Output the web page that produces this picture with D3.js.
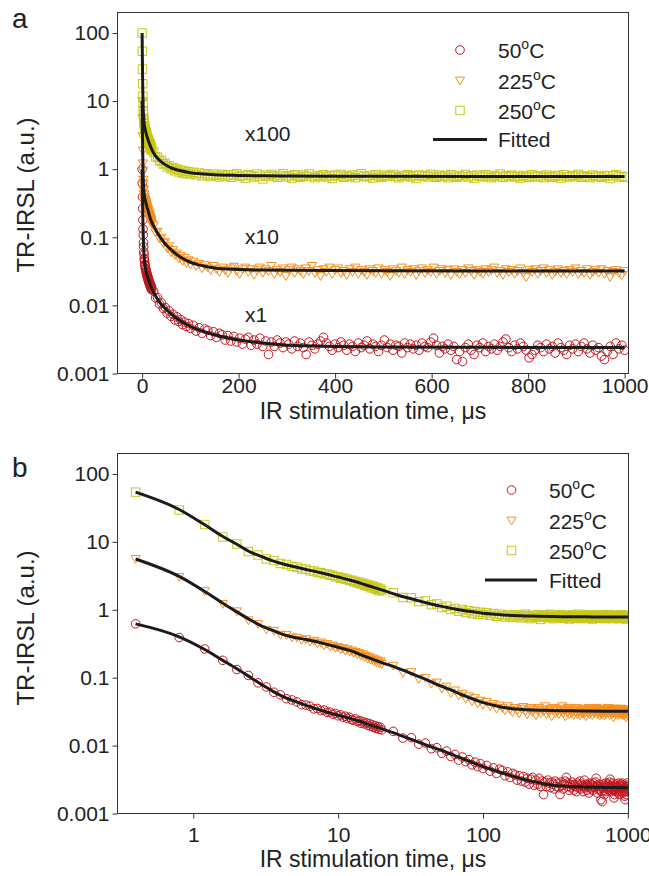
<!DOCTYPE html>
<html><head><meta charset="utf-8">
<script src="https://cdn.jsdelivr.net/npm/d3@7"></script>
<style>
body{margin:0;background:#fff}
svg{display:block}
text{font-family:"Liberation Sans",Arial,Helvetica,sans-serif;fill:#222}
</style></head>
<body><svg id="c" width="649" height="876"></svg>
<script>
// ---------------- DATA ----------------
const times = [0,0.4,0.8,1.2,1.6,2,2.4,2.8,3.2,3.6,
4,4.4,4.8,5.2,5.6,6,6.4,6.8,7.2,7.6,
8,8.4,8.8,9.2,9.6,10,10.4,10.8,11.2,11.6,
12,12.4,12.8,13.2,13.6,14,14.4,14.8,15.2,15.6,
16,16.4,16.8,17.2,17.6,18,18.4,18.8,19.2,19.6,
20,
24,28,32,36,40,44,48,52,56,60,
64,68,72,76,80,84,88,92,96,100,
106,112,118,124,130,136,142,148,154,160,
166,172,178,184,190,196,202,208,214,220,
226,232,238,244,250,256,262,268,274,280,
286,292,298,304,310,316,322,328,334,340,
346,352,358,364,370,376,382,388,394,400,
406,412,418,424,430,436,442,448,454,460,
466,472,478,484,490,496,502,508,514,520,
526,532,538,544,550,556,562,568,574,580,
586,592,598,604,610,616,622,628,634,640,
646,652,658,664,670,676,682,688,694,700,
706,712,718,724,730,736,742,748,754,760,
766,772,778,784,790,796,802,808,814,820,
826,832,838,844,850,856,862,868,874,880,
886,892,898,904,910,916,922,928,934,940,
946,952,958,964,970,976,982,988,994,1000];

const series50C = [1.0,0.62,0.39,0.265,0.18,0.132,0.108,0.084,0.073,0.061,
0.056,0.049,0.047,0.044,0.040,0.0395,0.038,0.0348,0.0352,0.0328,
0.0334,0.0309,0.0312,0.0290,0.0298,0.0275,0.0284,0.0262,0.0271,0.0250,
0.0262,0.0241,0.0236,0.0247,0.0226,0.0234,0.0213,0.0226,0.0209,0.0218,
0.0199,0.0211,0.0192,0.0203,0.0185,0.0196,0.0179,0.0191,0.0173,0.0186,
0.0170,
0.0162,0.0129,0.0131,0.0105,0.0109,0.0090,0.0093,0.0077,0.0083,0.0069,
0.0074,0.0061,0.0068,0.0058,0.0062,0.0052,0.0057,0.0049,0.0054,0.0046,
0.0051,0.0042,0.0047,0.0039,0.0045,0.0043,0.0036,0.0041,0.0034,0.0039,
0.0037,0.0031,0.0036,0.0030,0.0035,0.0029,0.0033,0.0027,0.0032,0.0034,
0.0026,0.0031,0.0027,0.0033,0.0025,0.0030,0.0019,0.0029,0.0025,0.0031,
0.0028,0.0024,0.0029,0.0027,0.0023,0.0030,0.0025,0.0028,0.0024,0.0019,
0.0029,0.0026,0.0023,0.0027,0.0030,0.0034,0.0028,0.0025,0.0022,0.0027,
0.0024,0.0029,0.0026,0.0022,0.0027,0.0025,0.0021,0.0028,0.0024,0.0026,
0.0030,0.0023,0.0027,0.0025,0.0021,0.0026,0.0031,0.0024,0.0027,0.0022,
0.0026,0.0025,0.0020,0.0028,0.0024,0.0027,0.0023,0.0026,0.0022,0.0028,
0.0025,0.0024,0.0029,0.0033,0.0026,0.0020,0.0025,0.0023,0.0027,0.0022,
0.0025,0.0016,0.0021,0.0015,0.0024,0.0027,0.0022,0.0019,0.0026,0.0024,
0.0028,0.0021,0.0025,0.0023,0.0027,0.0022,0.0025,0.0029,0.0032,0.0024,
0.0021,0.0026,0.0023,0.0028,0.0025,0.0022,0.0017,0.0019,0.0022,0.0026,
0.0024,0.0021,0.0027,0.0023,0.0025,0.0020,0.0028,0.0024,0.0022,0.0019,
0.0026,0.0023,0.0027,0.0021,0.0025,0.0028,0.0023,0.0020,0.0026,0.0022,
0.0024,0.0018,0.0016,0.0021,0.0025,0.0019,0.0028,0.0023,0.0026,0.0022];

const series225C = [10,5.6,3.05,1.88,1.22,0.95,0.70,0.62,0.51,0.49,
0.43,0.425,0.39,0.39,0.36,0.37,0.34,0.35,0.32,0.33,
0.30,0.315,0.29,0.298,0.275,0.283,0.262,0.272,0.250,0.262,
0.243,0.252,0.232,0.240,0.222,0.230,0.212,0.222,0.202,0.210,
0.192,0.200,0.183,0.193,0.176,0.186,0.168,0.180,0.163,0.174,
0.160,
0.150,0.118,0.121,0.096,0.099,0.082,0.085,0.069,0.074,0.060,
0.065,0.055,0.058,0.049,0.053,0.045,0.050,0.042,0.046,0.040,
0.044,0.038,0.041,0.035,0.039,0.036,0.033,0.038,0.034,0.031,
0.036,0.033,0.030,0.035,0.037,0.032,0.029,0.034,0.036,0.031,
0.034,0.028,0.033,0.036,0.030,0.034,0.032,0.038,0.029,0.033,
0.031,0.035,0.027,0.033,0.036,0.030,0.034,0.032,0.029,0.035,
0.032,0.038,0.030,0.033,0.027,0.034,0.031,0.036,0.029,0.033,
0.035,0.030,0.032,0.028,0.034,0.031,0.036,0.029,0.033,0.031,
0.028,0.034,0.032,0.030,0.035,0.029,0.033,0.031,0.027,0.034,
0.032,0.030,0.036,0.029,0.033,0.031,0.034,0.028,0.032,0.035,
0.030,0.033,0.031,0.036,0.029,0.032,0.034,0.030,0.033,0.028,
0.034,0.031,0.029,0.033,0.030,0.035,0.032,0.028,0.033,0.031,
0.029,0.034,0.031,0.033,0.036,0.030,0.032,0.028,0.034,0.031,
0.033,0.029,0.032,0.035,0.030,0.026,0.033,0.031,0.034,0.029,
0.032,0.035,0.030,0.033,0.028,0.031,0.034,0.030,0.032,0.029,
0.033,0.031,0.035,0.029,0.032,0.030,0.034,0.028,0.031,0.033,
0.030,0.034,0.029,0.032,0.026,0.031,0.033,0.030,0.028,0.032];

const series250C = [100,54,29.5,18.0,11.8,9.3,7.2,6.4,5.6,5.3,
4.8,4.65,4.35,4.25,4.0,3.95,3.75,3.72,3.55,3.52,
3.38,3.36,3.22,3.2,3.06,3.05,2.93,2.94,2.80,2.82,
2.70,2.72,2.58,2.62,2.48,2.55,2.40,2.45,2.30,2.38,
2.22,2.30,2.12,2.24,2.06,2.16,2.00,2.10,1.90,2.02,
1.92,
1.78,1.52,1.50,1.32,1.35,1.19,1.22,1.08,1.13,1.01,
1.05,0.95,1.01,0.91,0.97,0.88,0.94,0.86,0.92,0.85,
0.90,0.83,0.88,0.80,0.86,0.82,0.78,0.85,0.81,0.77,
0.84,0.79,0.83,0.76,0.82,0.86,0.78,0.81,0.74,0.83,
0.80,0.77,0.85,0.79,0.72,0.82,0.78,0.84,0.80,0.76,
0.81,0.86,0.77,0.80,0.74,0.83,0.79,0.76,0.82,0.78,
0.85,0.79,0.75,0.81,0.78,0.83,0.77,0.80,0.73,0.82,
0.79,0.84,0.76,0.80,0.78,0.82,0.75,0.81,0.86,0.79,
0.77,0.81,0.74,0.83,0.79,0.76,0.82,0.78,0.80,0.84,
0.78,0.75,0.81,0.79,0.83,0.77,0.80,0.73,0.82,0.79,
0.81,0.77,0.84,0.79,0.76,0.82,0.78,0.80,0.75,0.83,
0.79,0.76,0.81,0.78,0.84,0.77,0.80,0.74,0.82,0.79,
0.77,0.83,0.79,0.75,0.81,0.78,0.85,0.76,0.80,0.78,
0.82,0.77,0.79,0.74,0.81,0.78,0.76,0.83,0.79,0.77,
0.80,0.75,0.82,0.78,0.76,0.81,0.79,0.74,0.83,0.78,
0.77,0.81,0.79,0.84,0.76,0.80,0.78,0.75,0.82,0.79,
0.78,0.76,0.81,0.79,0.73,0.80,0.83,0.77,0.79,0.76];

const fitTimes = [0,0.4,0.8,1.2,1.6,2,2.5,3,3.5,4,5,6,7,8,10,12,15,20,25,30,40,50,60,70,80,100,120,150,200,250,300,400,500,700,1000];
const fit50C  = [1,0.62,0.40,0.26,0.18,0.135,0.10,0.078,0.064,0.055,0.045,0.039,0.035,0.032,0.028,0.0254,0.0218,0.0176,0.0150,0.0130,0.0103,0.0087,0.0075,0.0066,0.0059,0.0049,0.0043,0.0037,0.0031,0.0028,0.0026,0.0025,0.00245,0.00242,0.0024];
const fit225C = [10,5.6,3.1,1.86,1.25,0.93,0.70,0.57,0.50,0.445,0.39,0.365,0.34,0.317,0.28,0.252,0.21,0.167,0.142,0.122,0.095,0.077,0.066,0.057,0.051,0.043,0.039,0.0355,0.0337,0.0331,0.0328,0.0325,0.0323,0.0321,0.032];
const fit250C = [100,54,30,17.8,12.0,9.2,7.0,6.0,5.3,4.85,4.3,3.92,3.65,3.42,3.03,2.74,2.38,1.96,1.68,1.50,1.28,1.14,1.05,0.99,0.95,0.89,0.86,0.83,0.81,0.80,0.795,0.79,0.787,0.783,0.78];

const legendTemps = ["50","225","250"];
const yTickValues = [0.001,0.01,0.1,1,10,100];
const yTickLabels = ["0.001","0.01","0.1","1","10","100"];
const xTicksLinear = [0,200,400,600,800,1000];
const xTicksLog = [1,10,100,1000];
const multLabels = ["x100","x10","x1"];

// ---------------- DRAW ----------------
const FONT = '"Liberation Sans",Arial,Helvetica,sans-serif';
const C50 = "#c5161d", C225 = "#f7901e", C250 = "#c9c818";
const svg = d3.select("#c");

function drawMarker(g, shape, color, cx, cy) {
  if (shape === "circle") {
    g.append("circle").attr("cx", cx).attr("cy", cy).attr("r", 4.3)
      .attr("fill", "none").attr("stroke", color).attr("stroke-width", 1);
  } else if (shape === "tri") {
    g.append("path").attr("d", "M-4.6,-3.4L4.6,-3.4L0,4.4Z")
      .attr("transform", `translate(${cx},${cy})`)
      .attr("fill", "none").attr("stroke", color).attr("stroke-width", 1);
  } else {
    g.append("rect").attr("x", cx - 4.2).attr("y", cy - 4.2).attr("width", 8.4).attr("height", 8.4)
      .attr("fill", "none").attr("stroke", color).attr("stroke-width", 1);
  }
}

const seriesDefs = [
  {vals: series50C, fit: fit50C, color: C50, shape: "circle"},
  {vals: series225C, fit: fit225C, color: C225, shape: "tri"},
  {vals: series250C, fit: fit250C, color: C250, shape: "square"}
];

function panel(o) {
  const x = o.x;
  const y = d3.scaleLog().domain([0.001, 200]).range([o.bottom, o.top]);
  const g = svg.append("g");
  const id = "clip" + o.name;
  svg.append("clipPath").attr("id", id).append("rect")
    .attr("x", o.left).attr("y", o.top).attr("width", o.right - o.left).attr("height", o.bottom - o.top);
  const plot = g.append("g").attr("clip-path", `url(#${id})`);

  seriesDefs.forEach(s => {
    const sg = plot.append("g");
    times.forEach((t, i) => {
      const v = s.vals[i];
      if (v == null) return;
      if (o.log && t <= 0) return;
      drawMarker(sg, s.shape, s.color, x(t), y(v));
    });
  });
  const line = d3.line().x(d => x(d[0])).y(d => y(d[1])).curve(d3.curveMonotoneX);
  seriesDefs.forEach(s => {
    const pts = fitTimes.map((t, i) => [t, s.fit[i]]).filter(d => !(o.log && d[0] <= 0));
    plot.append("path").attr("d", line(pts)).attr("fill", "none")
      .attr("stroke", "#1b1b1b").attr("stroke-width", 3).attr("stroke-linejoin", "round");
  });

  // axes
  const xa = g.append("g").attr("transform", `translate(0,${o.bottom})`)
    .call(d3.axisBottom(x).tickValues(o.xTicks).tickFormat(d => String(d)).tickSize(5).tickPadding(o.xPad));
  const ya = g.append("g").attr("transform", `translate(${o.left},0)`)
    .call(d3.axisLeft(y).tickValues(yTickValues).tickFormat((d, i) => yTickLabels[i]).tickSize(5).tickPadding(3));
  [xa, ya].forEach(a => {
    a.select(".domain").remove();
    a.attr("font-family", FONT).attr("font-size", 21);
    a.selectAll("line").attr("stroke", "#333");
    a.selectAll("text").attr("fill", "#222");
  });
  g.append("rect").attr("x", o.left).attr("y", o.top).attr("width", o.right - o.left)
    .attr("height", o.bottom - o.top).attr("fill", "none").attr("stroke", "#333").attr("stroke-width", 1);

  // titles
  g.append("text").attr("x", (o.left + o.right) / 2).attr("y", o.xTitleY).attr("text-anchor", "middle")
    .attr("font-size", 23).text("IR stimulation time, μs");
  g.append("text").attr("transform", `translate(34,${o.yTitleY}) rotate(-90)`).attr("text-anchor", "middle")
    .attr("font-size", 24).text("TR-IRSL (a.u.)");
  g.append("text").attr("x", 12).attr("y", o.letterY).attr("font-size", 28).text(o.letter);

  // legend
  const L = o.legend;
  seriesDefs.forEach((s, i) => {
    drawMarker(g, s.shape, s.color, L.symX, L.rows[i]);
    const t = g.append("text").attr("x", L.textX).attr("y", L.rows[i] + 8).attr("font-size", 21);
    t.append("tspan").text(legendTemps[i]);
    t.append("tspan").attr("dy", -9).attr("font-size", 14).text("o");
    t.append("tspan").attr("dy", 9).text("C");
  });
  g.append("line").attr("x1", L.lineX0).attr("x2", L.lineX1).attr("y1", L.lineY).attr("y2", L.lineY)
    .attr("stroke", "#1b1b1b").attr("stroke-width", 3);
  g.append("text").attr("x", L.textX).attr("y", L.lineY + 7.5).attr("font-size", 21).text("Fitted");

  if (o.annot) {
    o.annot.forEach((a, i) => g.append("text").attr("x", a[0]).attr("y", a[1]).attr("font-size", 21).text(multLabels[i]));
  }
}

const left = 117.5, right = 628.5;
panel({
  name: "a", log: false, left, right, top: 12.5, bottom: 373.5,
  x: d3.scaleLinear().domain([-51, 1008]).range([left, right]),
  xTicks: xTicksLinear, xPad: 0, xTitleY: 419, yTitleY: 195, letter: "a", letterY: 28,
  legend: {symX: 460, rows: [50, 80.5, 110.5], lineY: 139.5, lineX0: 433, lineX1: 487, textX: 498},
  annot: [[245, 141], [245, 244], [245, 322]]
});
panel({
  name: "b", log: true, left, right, top: 453.5, bottom: 813.5,
  x: d3.scaleLog().domain([0.3, 1010]).range([left, right]),
  xTicks: xTicksLog, xPad: 9, xTitleY: 867, yTitleY: 628, letter: "b", letterY: 477,
  legend: {symX: 511.5, rows: [490, 520.5, 550.5], lineY: 580, lineX0: 485, lineX1: 537, textX: 549}
});
</script>
</body></html>
